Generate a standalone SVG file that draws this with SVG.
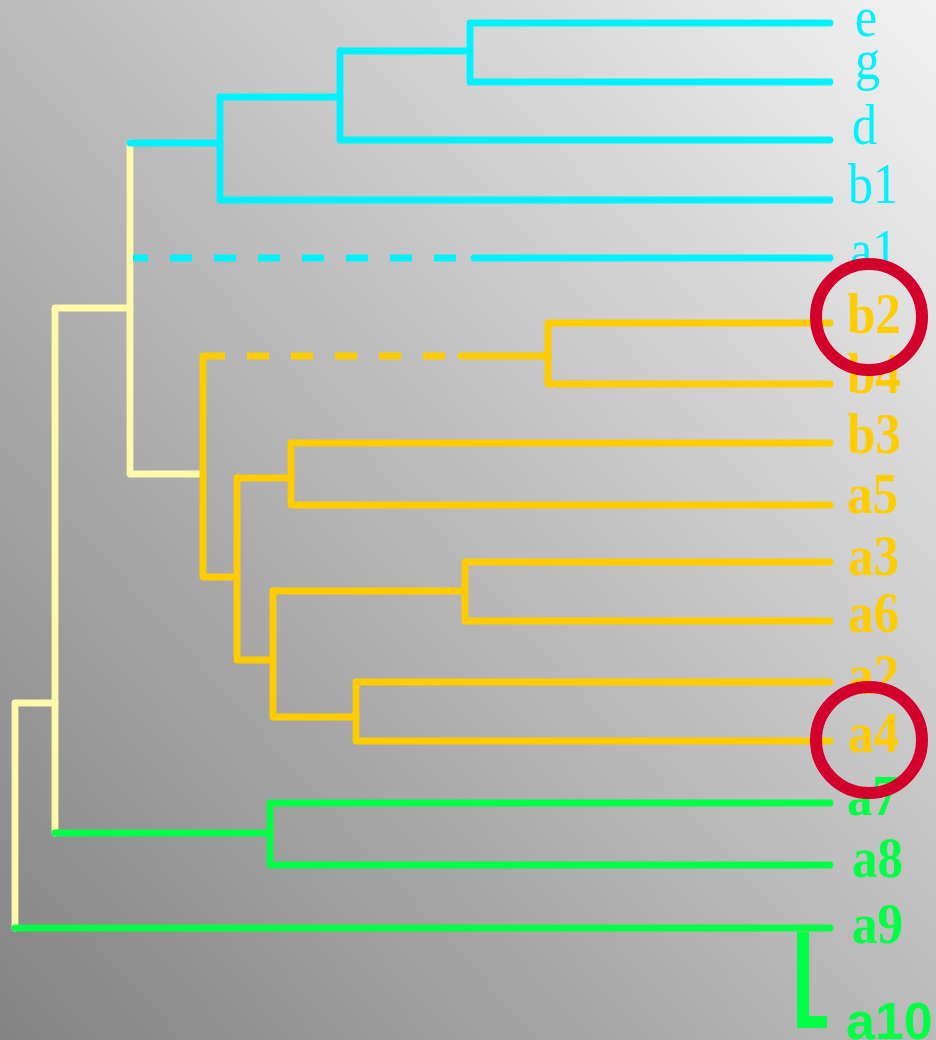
<svg xmlns="http://www.w3.org/2000/svg" width="936" height="1040" viewBox="0 0 936 1040">
<defs>
<linearGradient id="bg" x1="1" y1="0" x2="0" y2="1">
<stop offset="0" stop-color="#F2F2F2"/>
<stop offset="1" stop-color="#838383"/>
</linearGradient>
<style>
.ln{fill:none;stroke-width:6.8;stroke-linecap:round;stroke-linejoin:round}
.cy{stroke:#00F2FF}
.go{stroke:#FFCC00}
.cr{stroke:#FFF9AA}
.gr{stroke:#00FF44}
.da{stroke-dasharray:22 22;stroke-linecap:butt}
.t{font-family:"Liberation Serif","Times New Roman",serif;font-size:50px}
.tc{fill:#00F2FF}
.tg{fill:#FFCC00;font-weight:bold;font-size:51px}
.tn{fill:#00FF44;font-weight:bold;font-size:51px}
.ts{fill:#00FF44;font-family:"Liberation Sans",Arial,sans-serif;font-weight:bold;font-size:52px}
.ring{fill:none;stroke:#D2002A;stroke-width:12}
</style>
</defs>
<rect width="936" height="1040" fill="url(#bg)"/>
<g id="connectors">
<path class="ln cr" d="M130,143 V474 H203"/>
<path class="ln cr" d="M130,308 H55 V833"/>
<path class="ln cr" d="M55,703 H15 V928"/>
<path class="ln cy" d="M130,143 H220"/>
<path class="ln cy" d="M220,97 V200 H830"/>
<path class="ln cy" d="M220,97 H340"/>
<path class="ln cy" d="M340,51 V140 H830"/>
<path class="ln cy" d="M340,51 H470"/>
<path class="ln cy" d="M830,23 H470 V82 H830"/>
<path class="ln cy da" d="M133,258 H460" stroke-dashoffset="7"/>
<path class="ln cy" d="M474,258 H830"/>
<path class="ln go" d="M203,356 V577 H237"/>
<path class="ln go da" d="M203,356 H450"/>
<path class="ln go" d="M461,356 H548"/>
<path class="ln go" d="M830,323 H548 V384 H830"/>
<path class="ln go" d="M237,478 V660 H273"/>
<path class="ln go" d="M237,478 H291"/>
<path class="ln go" d="M830,443 H291 V505 H830"/>
<path class="ln go" d="M273,591 V717 H356"/>
<path class="ln go" d="M273,591 H465"/>
<path class="ln go" d="M830,562 H465 V621 H830"/>
<path class="ln go" d="M830,682 H356 V741 H830"/>
<path class="ln gr" d="M55,833 H270"/>
<path class="ln gr" d="M830,803 H270 V865 H830"/>
<path class="ln gr" d="M15,928 H830"/>
<path d="M803,932 V1022 H827" fill="none" stroke="#00FF44" stroke-width="12" stroke-linejoin="miter"/>
</g>
<g id="leaf-e"><text class="t tc" transform="translate(855,36) scale(1,1.15)">e</text></g>
<g id="leaf-g"><text class="t tc" transform="translate(855,79) scale(1,1.15)">g</text></g>
<g id="leaf-d"><text class="t tc" transform="translate(852,144) scale(1,1.15)">d</text></g>
<g id="leaf-b1"><text class="t tc" transform="translate(848,203) scale(1,1.15)">b1</text></g>
<g id="leaf-a1"><text class="t tc" transform="translate(850,269) scale(1,1.15)">a1</text></g>
<g id="leaf-b2"><text class="t tg" transform="translate(847,333) scale(1,1.12)">b2</text></g>
<g id="leaf-b4"><text class="t tg" transform="translate(847,393) scale(1,1.12)">b4</text></g>
<g id="leaf-b3"><text class="t tg" transform="translate(847,453) scale(1,1.12)">b3</text></g>
<g id="leaf-a5"><text class="t tg" transform="translate(847,513) scale(1,1.12)">a5</text></g>
<g id="leaf-a3"><text class="t tg" transform="translate(848,575) scale(1,1.12)">a3</text></g>
<g id="leaf-a6"><text class="t tg" transform="translate(848,632) scale(1,1.12)">a6</text></g>
<g id="leaf-a2"><text class="t tg" transform="translate(848,694) scale(1,1.12)">a2</text></g>
<g id="leaf-a4"><text class="t tg" transform="translate(848,752) scale(1,1.12)">a4</text></g>
<g id="leaf-a7"><text class="t tn" transform="translate(847,815) scale(1,1.12)">a7</text></g>
<g id="leaf-a8"><text class="t tn" transform="translate(852,877) scale(1,1.12)">a8</text></g>
<g id="leaf-a9"><text class="t tn" transform="translate(852,943) scale(1,1.12)">a9</text></g>
<g id="leaf-a10"><text class="ts" x="846" y="1039">a10</text></g>
<g id="highlight-b2"><circle class="ring" cx="869" cy="317" r="53"/></g>
<g id="highlight-a4"><circle class="ring" cx="869" cy="740" r="53"/></g>
</svg>
